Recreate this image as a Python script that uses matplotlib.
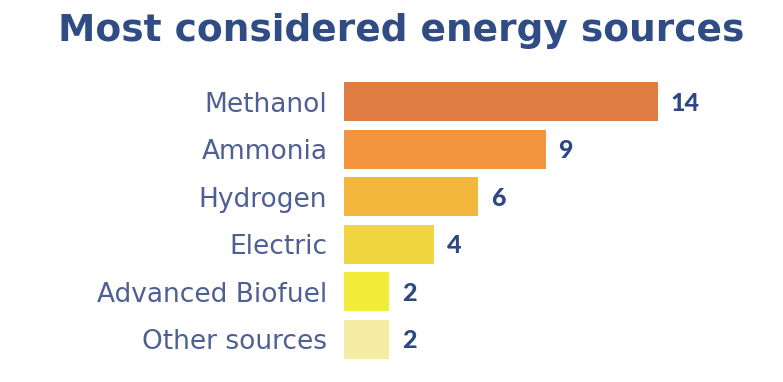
import matplotlib.pyplot as plt

sources = ['Methanol', 'Ammonia', 'Hydrogen', 'Electric', 'Advanced Biofuel', 'Other sources']
counts = [14, 9, 6, 4, 2, 2]
colors = ['#E07D42', '#F3943F', '#F2B73C', '#F2D640', '#F2EC3A', '#F5EDA4']

W, H = 783, 382
fig = plt.figure(figsize=(W / 100, H / 100), dpi=100)

# axes placed in pixel terms: bars start at x=344, 22.4 px per unit
left, right = 344, 760
top, bottom = 78, 363
ax = fig.add_axes([left / W, 1 - bottom / H, (right - left) / W, (bottom - top) / H])
ax.set_xlim(0, (right - left) / 22.4)

y = range(len(sources))
ax.barh(y, counts, height=0.82, color=colors)
ax.set_ylim(len(sources) - 0.5, -0.5)

for i, v in enumerate(counts):
    ax.text(v + 0.58, i + 0.03, str(v), va='center', ha='left', fontsize=18,
            fontweight='black', color='#2D4780', family='Lato')

ax.set_yticks(list(y))
ax.set_yticklabels(sources, fontsize=19, color='#4D5F93', family='DejaVu Sans')
ax.tick_params(axis='y', length=0, pad=12)
ax.set_xticks([])
for s in ax.spines.values():
    s.set_visible(False)

fig.text(401 / W, 1 - 31 / H, 'Most considered energy sources', ha='center', va='center',
         fontsize=27, fontweight='bold', color='#2F4C85', family='DejaVu Sans')

fig.savefig('out.png', dpi=100)
